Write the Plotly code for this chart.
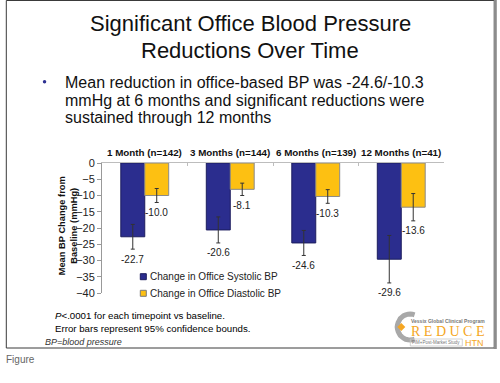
import math
import plotly.graph_objects as go

# ---------------- data ----------------
categories = ["1 Month (n=142)", "3 Months (n=144)", "6 Months (n=139)", "12 Months (n=41)"]
systolic = [-22.7, -20.6, -24.6, -29.6]
diastolic = [-10.0, -8.1, -10.3, -13.6]
systolic_ci = [3.8, 4.0, 3.85, 7.3]
diastolic_ci = [2.15, 1.9, 2.1, 4.2]
y_ticks = [0, -5, -10, -15, -20, -25, -30, -35, -40]
series_names = ["Change in Office Systolic BP", "Change in Office Diastolic BP"]

# ---------------- geometry ----------------
W, H = 500, 383
L, R, T, B = 101.7, 443.7, 163.0, 293.0

def px(x):
    return (x - L) / (R - L)

def py(y):
    return (B - y) / (B - T)

BLUE = "#2B2D8E"
ORANGE = "#FDC012"
FONT = "Liberation Sans, Arial, sans-serif"

fig = go.Figure()
fig.add_trace(go.Bar(
    x=categories, y=systolic, name=series_names[0],
    marker=dict(color=BLUE, line=dict(color="#1c1d5e", width=1)),
    error_y=dict(type="data", array=systolic_ci, color="#333", thickness=1, width=2),
    showlegend=False,
))
fig.add_trace(go.Bar(
    x=categories, y=diastolic, name=series_names[1],
    marker=dict(color=ORANGE, line=dict(color="#8a8a8a", width=1)),
    error_y=dict(type="data", array=diastolic_ci, color="#333", thickness=1, width=2),
    showlegend=False,
))

ann = []
shapes = []

# category labels (top)
for i, c in enumerate(categories):
    ann.append(dict(x=i, xref="x", y=py(152), yref="paper", text="<b>%s</b>" % c,
                    showarrow=False, font=dict(family=FONT, size=9.8, color="#111"),
                    xanchor="center", yanchor="middle"))

# data labels below error bars
off = 0.14
for i in range(len(categories)):
    ann.append(dict(x=i - off, xref="x", y=systolic[i] - systolic_ci[i], yref="y",
                    text="%.1f" % systolic[i], showarrow=False, yshift=-10,
                    font=dict(family=FONT, size=10, color="#222"), yanchor="middle"))
    ann.append(dict(x=i + off, xref="x", y=diastolic[i] - diastolic_ci[i], yref="y",
                    text="%.1f" % diastolic[i], showarrow=False, yshift=-10,
                    font=dict(family=FONT, size=10, color="#222"), yanchor="middle"))

# y axis title
ann.append(dict(x=px(68), y=py(226), xref="paper", yref="paper",
                text="<b>Mean BP Change from<br>Baseline (mmHg)</b>", textangle=-90,
                showarrow=False, font=dict(family=FONT, size=9.3, color="#111"),
                xanchor="center", yanchor="middle"))

# manual legend
for k, (name, col, lc, yy) in enumerate([(series_names[0], BLUE, "#1c1d5e", 276.7),
                                          (series_names[1], ORANGE, "#7a7a7a", 293.3)]):
    shapes.append(dict(type="rect", xref="paper", yref="paper",
                       x0=px(140), x1=px(146), y0=py(yy + 3), y1=py(yy - 3),
                       fillcolor=col, line=dict(color=lc, width=1)))
    ann.append(dict(x=px(147.5), y=py(yy), xref="paper", yref="paper", text=name,
                    showarrow=False, xanchor="left", yanchor="middle",
                    font=dict(family=FONT, size=10, color="#222")))

# title
ann.append(dict(x=px(250), y=py(24), xref="paper", yref="paper",
                text="Significant Office Blood Pressure", showarrow=False,
                font=dict(family=FONT, size=22, color="#111"), xanchor="center", yanchor="middle"))
ann.append(dict(x=px(250), y=py(50), xref="paper", yref="paper",
                text="Reductions Over Time", showarrow=False,
                font=dict(family=FONT, size=22, color="#111"), xanchor="center", yanchor="middle"))

# bullet text
bullet_lines = ["Mean reduction in office-based BP was -24.6/-10.3",
                "mmHg at 6 months and significant reductions were",
                "sustained through 12 months"]
for j, line in enumerate(bullet_lines):
    ann.append(dict(x=px(63), y=py(82 + 18 * j), xref="paper", yref="paper", text=line,
                    showarrow=False, xanchor="left", yanchor="middle",
                    font=dict(family=FONT, size=16, color="#111")))
shapes.append(dict(type="circle", xref="paper", yref="paper",
                   x0=px(42.5), x1=px(46), y0=py(80), y1=py(83.5),
                   fillcolor="#2E3192", line=dict(width=0)))

# footnotes
ann.append(dict(x=px(52.5), y=py(315), xref="paper", yref="paper",
                text="<i>P</i>&lt;.0001 for each timepoint vs baseline.", showarrow=False,
                xanchor="left", yanchor="middle", font=dict(family=FONT, size=9.7, color="#000")))
ann.append(dict(x=px(52.5), y=py(328), xref="paper", yref="paper",
                text="Error bars represent 95% confidence bounds.", showarrow=False,
                xanchor="left", yanchor="middle", font=dict(family=FONT, size=9.7, color="#000")))
ann.append(dict(x=px(43), y=py(341.5), xref="paper", yref="paper",
                text="<i>BP=blood pressure</i>", showarrow=False,
                xanchor="left", yanchor="middle", font=dict(family=FONT, size=9, color="#333")))
ann.append(dict(x=px(4), y=py(359), xref="paper", yref="paper",
                text="Figure", showarrow=False,
                xanchor="left", yanchor="middle", font=dict(family=FONT, size=10, color="#666")))

# logo
cx, cy, rr = 410, 327, 13
pts = []
for a in range(70, 291, 10):
    t = math.radians(a)
    pts.append((cx + rr * math.cos(t), cy - rr * math.sin(t)))
path = "M " + " L ".join("%.3f,%.3f" % (px(x), py(y)) for x, y in pts)
shapes.append(dict(type="path", xref="paper", yref="paper", path=path,
                   line=dict(color="#a8a8a8", width=5)))
shapes.append(dict(type="path", xref="paper", yref="paper",
                   path="M %f,%f L %f,%f L %f,%f L %f,%f Z" % (
                       px(397), py(327), px(401), py(323), px(405), py(327), px(401), py(331)),
                   fillcolor="#F5A623", line=dict(width=0)))
ann.append(dict(x=px(448), y=py(320.5), xref="paper", yref="paper",
                text="<b>Vessix Global Clinical Program</b>", showarrow=False,
                xanchor="center", yanchor="middle", font=dict(family=FONT, size=5, color="#777")))
ann.append(dict(x=px(448), y=py(331.5), xref="paper", yref="paper",
                text="R E D U C E", showarrow=False,
                xanchor="center", yanchor="middle",
                font=dict(family="Liberation Serif, DejaVu Serif, serif", size=14, color="#F5A623")))
ann.append(dict(x=px(436), y=py(342.5), xref="paper", yref="paper",
                text="FIM+Post-Market Study", showarrow=False,
                xanchor="center", yanchor="middle", font=dict(family=FONT, size=4.5, color="#777")))
shapes.append(dict(type="rect", xref="paper", yref="paper",
                   x0=px(410), x1=px(462), y0=py(346), y1=py(339),
                   line=dict(color="#c8c8c8", width=0.8)))
ann.append(dict(x=px(474), y=py(342.8), xref="paper", yref="paper",
                text="HTN", showarrow=False,
                xanchor="center", yanchor="middle", font=dict(family=FONT, size=9, color="#F5A623")))

# slide frame
shapes.append(dict(type="rect", xref="paper", yref="paper",
                   x0=px(6), x1=px(494), y0=py(348), y1=py(0.5),
                   line=dict(color="#3a3a3a", width=1), layer="below"))
shapes.append(dict(type="line", xref="paper", yref="paper",
                   x0=px(495), x1=px(495), y0=py(349), y1=py(0),
                   line=dict(color="#8c8c8c", width=3)))

fig.update_layout(
    width=W, height=H,
    margin=dict(l=L, r=W - R, t=T, b=H - B, pad=0),
    paper_bgcolor="white", plot_bgcolor="white",
    barmode="group", bargap=0.44, bargroupgap=0,
    showlegend=False, hovermode=False,
    annotations=ann, shapes=shapes,
    xaxis=dict(type="category", side="top", showticklabels=False,
               showline=True, linecolor="#bdbdbd", linewidth=1,
               ticks="inside", ticklen=3, tickcolor="#bdbdbd", tickson="boundaries",
               showgrid=False, zeroline=False, range=[-0.5, 3.5], fixedrange=True),
    yaxis=dict(range=[-40, 0], tickvals=y_ticks, ticks="outside", ticklen=4,
               tickcolor="#999", showline=True, linecolor="#999", linewidth=1,
               showgrid=False, zeroline=False, fixedrange=True,
               tickfont=dict(family=FONT, size=11, color="#222")),
)

fig.write_html("out.html", config={"displayModeBar": False},
               post_script="document.body.style.margin='0';document.body.style.overflow='hidden';")
